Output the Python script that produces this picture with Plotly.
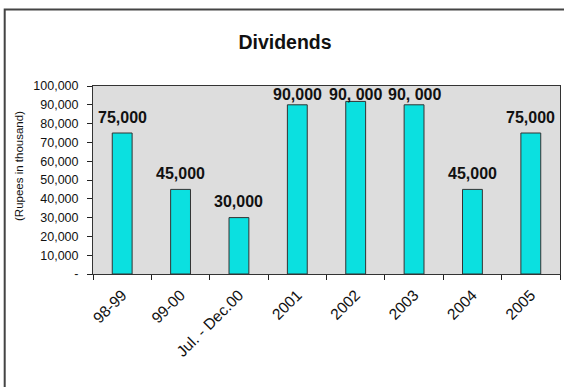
import plotly.graph_objects as go

categories = ["98-99", "99-00", "Jul. - Dec.00", "2001", "2002", "2003", "2004", "2005"]
dividends = [75000, 45000, 30000, 90000, 91800, 90000, 45000, 75000]
value_labels = ["75,000", "45,000", "30,000", "90,000", "90, 000", "90, 000", "45,000", "75,000"]
y_tickvals = [0, 10000, 20000, 30000, 40000, 50000, 60000, 70000, 80000, 90000, 100000]
y_ticktext = ["-", "10,000", "20,000", "30,000", "40,000", "50,000", "60,000",
              "70,000", "80,000", "90,000", "100,000"]

W, H = 564, 387
L, R, T, B = 93, 4, 86, 113
pw, ph = W - L - R, H - T - B
FONT = "Arial, Liberation Sans, sans-serif"

idx = list(range(len(categories)))
boundaries = [i - 0.5 for i in range(len(categories) + 1)]

fig = go.Figure()
fig.add_trace(go.Bar(
    x=idx, y=dividends, width=0.34,
    marker=dict(color="#0BE0E0", line=dict(color="#333333", width=1)),
    hovertext=categories, hoverinfo="text+y",
))

annotations = []
for i, v, t in zip(idx, dividends, value_labels):
    annotations.append(dict(
        x=i, y=min(v, 87000), xref="x", yref="y", text=f"<b>{t}</b>", showarrow=False,
        yshift=16, font=dict(family=FONT, size=16, color="#111111"),
    ))
annotations.append(dict(
    x=(19 - L) / pw, y=(H - B - 166) / ph, xref="paper", yref="paper",
    text="(Rupees in thousand)", textangle=-90, showarrow=False,
    xanchor="center", yanchor="middle",
    font=dict(family=FONT, size=11.5, color="#111111"),
))

fig.update_layout(
    width=W, height=H,
    margin=dict(l=L, r=R, t=T, b=B, autoexpand=False),
    paper_bgcolor="white", plot_bgcolor="#DDDDDD",
    showlegend=False,
    title=dict(text="<b>Dividends</b>", x=285 / W, xanchor="center",
               y=1 - 42 / H, yanchor="middle",
               font=dict(family=FONT, size=19.5, color="#111111")),
    annotations=annotations,
    shapes=[dict(type="rect", xref="paper", yref="paper",
                 x0=(4.7 - L) / pw, x1=1.5, y0=-2, y1=(H - B - 9.5) / ph,
                 line=dict(color="#444444", width=2), layer="below")],
    xaxis=dict(range=[-0.5, len(categories) - 0.5], tickvals=idx, ticktext=categories,
               ticks="", tickangle=-45, ticklabelstandoff=5,
               minor=dict(tickvals=boundaries, ticks="outside", ticklen=5,
                          tickcolor="#222222", showgrid=False),
               showline=True, linecolor="#333333", linewidth=1, mirror=True,
               showgrid=False, zeroline=False,
               tickfont=dict(family=FONT, size=15.5, color="#111111")),
    yaxis=dict(range=[0, 100000], tickvals=y_tickvals, ticktext=y_ticktext,
               ticks="outside", ticklen=5, tickcolor="#222222", ticklabelstandoff=6,
               showline=True, linecolor="#333333", linewidth=1, mirror=True,
               showgrid=False, zeroline=False,
               tickfont=dict(family=FONT, size=12.5, color="#111111")),
)

fig.write_html("out.html")
